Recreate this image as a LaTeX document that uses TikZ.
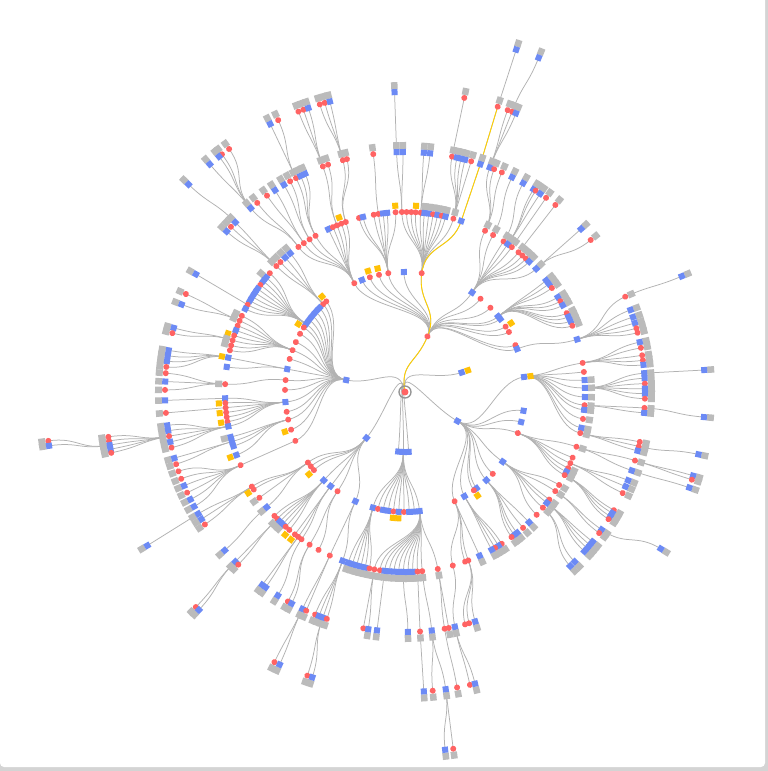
\documentclass[tikz,border=0pt]{standalone}
\definecolor{nred}{RGB}{255,99,99}
\definecolor{nblue}{RGB}{108,138,245}
\definecolor{ngray}{RGB}{187,187,187}
\definecolor{nyel}{RGB}{255,193,7}
\definecolor{ylin}{RGB}{255,208,0}
\definecolor{ecol}{RGB}{178,178,178}
\definecolor{shadowc}{RGB}{212,212,212}
\pgfdeclarelayer{bg}\pgfdeclarelayer{edges}\pgfdeclarelayer{yel}
\pgfsetlayers{bg,edges,yel,main}
\tikzset{
  rednode/.style={circle,fill=nred,inner sep=0pt,minimum size=6pt},
  bluenode/.style={rectangle,fill=nblue,inner sep=0pt,minimum size=6pt},
  gsq/.style={rectangle,fill=ngray,inner sep=0pt,minimum width=7pt,minimum height=6.5pt},
  ysq/.style={rectangle,fill=nyel,inner sep=0pt,minimum size=6pt},
  lnk/.style={draw=ecol,line width=0.75pt},
  ylnk/.style={draw=ylin,line width=0.9pt},
  cur/.style={rednode}
}
\pgfkeys{/mk/.cd,
 r/.code={\tikzset{cur/.style={rednode}}\def\mrk{n}},
 R/.code={\tikzset{cur/.style={rednode}}\def\mrk{g}},
 b/.code={\tikzset{cur/.style={bluenode}}\def\mrk{n}},
 B/.code={\tikzset{cur/.style={bluenode}}\def\mrk{g}},
 y/.code={\tikzset{cur/.style={rednode}}\def\mrk{y}},
 z/.code={\tikzset{cur/.style={bluenode}}\def\mrk{y}}}
\gdef\alledges{}
\gdef\yeledges{}
\newcommand\mknode[4]{%
  \edef\tmpk{\noexpand\pgfkeys{/mk/#4}}\tmpk
  \if g\mrk \node[gsq,rotate=#2] (#1-m) at (#2:{#3+6.5}) {};\fi
  \if y\mrk \node[ysq,rotate=#2] (#1-m) at (#2:{#3+6.5}) {};\fi
  \node[cur,rotate=#2] (#1) at (#2:#3) {};}
\newcommand\fanx[4]{%
  \edef\pa{\csname A#1\endcsname}%
  \pgfmathsetmacro\rc{60*#3}%
  \pgfmathsetmacro\rmid{60*(#3-0.5)}%
  \foreach \ang/\cc [count=\k] in {#4} {%
    \mknode{#2-\k}{\ang}{\rc}{\cc}%
    \expandafter\xdef\csname A#2-\k\endcsname{\ang}%
    \xdef\alledges{\unexpanded\expandafter{\alledges}\noexpand\draw[lnk] (#1.center) .. controls (\pa:\rmid) and (\ang:\rmid) .. (#2-\k.center);}%
  }}
\newcommand\yedge[3]{%
  \pgfmathsetmacro\rmid{60*(#3-0.5)}%
  \edef\pa{\csname A#1\endcsname}\edef\pb{\csname A#2\endcsname}%
  \xdef\yeledges{\unexpanded\expandafter{\yeledges}\noexpand\draw[ylnk] (#1.center) .. controls (\pa:\rmid) and (\pb:\rmid) .. (#2.center);}}
\expandafter\def\csname Aroot\endcsname{100}
\begin{document}
\begin{tikzpicture}[x=1pt,y=1pt]
\useasboundingbox (-405,-379) rectangle (363,392);
\begin{pgfonlayer}{bg}
\fill[shadowc] (-405,-379) rectangle (363,392);
\fill[white,rounded corners=4pt] (-405,-375) rectangle (360,400);
\end{pgfonlayer}
\node[circle,draw=gray!85,line width=1.3pt,minimum size=12pt,inner sep=0pt] (ring) at (0,0) {};
\node[circle,fill=nred,minimum size=7pt,inner sep=0pt] (root) at (0,0) {};
% depth 1
\fanx{root}{A}{1}{168.5/b,68/r,19/z,-29/b,230/b,263.5/b,268.5/b,273.5/b}
% depth 2
\fanx{A-2}{U}{2}{115/r,111/b,107/y,102.5/y,98/r,90.5/b,82/r,56/b,51/r,44.6/r,39/b,37.5/b,33/y,30/r,23/r,21/b}
\fanx{A-1}{L}{2}{131/y,133/r,135.5/b,138/b,140.5/b,143/b,145.5/b,147.5/y,151/r,155.4/r,159.6/r,164/r,169/b,174.3/r,179/r,184.8/b,189.5/r,193.3/r,198.3/y,204/r}
\fanx{A-4}{R}{2}{7.2/z,-9/b,-14.5/b,-20/r,-35.5/b,-43/r,-47.3/b,-53.4/b,-55/y,-60.3/b,-65.6/r}
\fanx{A-5}{M}{2}{216/r,218.3/r,220.6/y,227.4/b,231.7/b,235.8/r,245.6/b}
\fanx{A-7}{D}{2}{254.5/b,257/r,259.5/b,262/b,264.5/y,267/z,269.5/r,272/b,274.5/b,277/b}
% depth 3
\fanx{U-1}{Ua}{3}{126.3/r,124.2/r,122/r,119.8/r,115.2/b,113.6/r,112.2/r,110.7/y,109.2/r}
\fanx{U-5}{Ub}{3}{104.8/r,103.5/b,100/r,98.5/r,97/b,95.7/b,93/y}
\fanx{U-7}{Uc}{3}{91/r,89.5/r,88/r,86.6/y,85/r,83.8/B,82.4/B,81/R,79.6/B,78.2/R,77/B,74.4/R,71.8/b}
\fanx{U-8}{Ud}{3}{63.6/R,60.7/R,56.8/R,55.2/B,53.6/R,50.9/R,49.3/R,47.8/R,46.4/B,43.2/B}
\fanx{U-11}{Ue}{3}{38.3/B,36.9/B,35.3/R,31.8/B,30.3/R,28.8/B,26/R,24.7/B,23.2/B,21.6/R}
\fanx{U-16}{Uf}{3}{17/b}
\fanx{L-2}{Lh}{3}{129.6/B,131.7/B,133.8/R,135.6/R}
\fanx{L-7}{La}{3}{138.7/r,140.5/B,142/b,143.5/r,145/b,146.5/b,148/b,149.5/b,151/r,152.5/b}
\fanx{L-11}{Lb}{3}{155/R,156.7/R,158.4/r,160/b,161.7/y,163.3/R,165/R,166.6/r}
\fanx{L-13}{Lc}{3}{169/z,172/b}
\fanx{L-14}{Ld}{3}{177.5/R}
\fanx{L-16}{Le}{3}{182/b,183.5/y,185/r,186.5/y,188/r,189.5/y,191/b}
\fanx{L-18}{Lf}{3}{194.5/B,196/b,197.5/b,200.5/z}
\fanx{L-20}{Lg}{3}{204/r}
\fanx{M-1}{Ma}{3}{211.7/r,212.8/y,216/R,219.8/B}
\fanx{M-4}{Mb}{3}{223.5/r,224.8/R,226/B,227.2/B,228.5/r,230/y}
\fanx{M-5}{Mc}{3}{232.3/y,233.6/r,234.9/r}
\fanx{M-6}{Md}{3}{238/r,241.3/r}
\fanx{M-7}{Me}{3}{245.3/r,249.7/b}
\fanx{D-1}{Da}{3}{251.6/B,253/B,254.4/B,255.8/B,257.2/B,258.6/R}
\fanx{D-10}{Db}{3}{260.2/R,262/R,263.5/B,265/B,266.5/B,268/B,269.5/B,271/B,272.5/B,274/R,275.5/R,280.5/R}
\fanx{R-1}{Ra}{3}{9.3/r,6.4/r,3.8/B,1.3/B,-1.6/B,-4.2/R,-5.7/B,-8.6/R,-11.5/B,-13.2/R}
\fanx{R-4}{Rb}{3}{-17.7/R,-21.4/r,-23.3/r,-25/R,-26.3/B,-27.5/R}
\fanx{R-5}{Rc}{3}{-31.1/R,-33.4/R,-36.7/R,-38/B,-40/R,-43/r}
\fanx{R-7}{Rd}{3}{-46.4/B,-49/R,-51.5/B,-52.6/B,-53.7/R}
\fanx{R-10}{Re}{3}{-57.5/R,-58.7/B,-60/R,-61.2/B}
\fanx{R-11}{Rf}{3}{-65.5/B,-69.4/r,-70.5/r,-74.6/r}
% depth 4
\fanx{Ua-1}{Va}{4}{128/R,130/B}
\fanx{Ua-2}{Vb}{4}{122.8/B,125.1/R}
\fanx{Ua-3}{Vc}{4}{118.6/R,120.3/B}
\fanx{Ua-4}{Vd}{4}{117/R,115.8/B,114.6/B}
\fanx{Ua-7}{Ve}{4}{110/R,108.7/R}
\fanx{Ua-9}{Vf}{4}{105/R,104/R}
\fanx{Ub-4}{Vg}{4}{97.6/R}
\fanx{Uc-1}{Vh}{4}{92/B,90.5/B}
\fanx{Uc-5}{Vi}{4}{85.5/B,84/B}
\fanx{Uc-12}{Vj}{4}{78.7/R,77.5/B,76.5/B,75.5/B,74/R}
\fanx{Uc-13}{Vk}{4}{71.7/B}
\fanx{Ud-1}{Vl}{4}{69.3/B,68.2/R,66.2/R}
\fanx{Ud-2}{Vm}{4}{63.5/B}
\fanx{Ud-3}{Vn}{4}{60.5/B}
\fanx{Ud-4}{Vo}{4}{57.6/B,57/R,55.7/B}
\fanx{Ud-5}{Vp}{4}{54/R}
\fanx{Ud-6}{Vq}{4}{51.2/R}
\fanx{Ud-10}{Vr}{4}{42.8/B,39.3/R}
\fanx{Uf-1}{Vs}{4}{23.4/R,20/B,18.2/B,16.7/B,15.4/R,14.3/R}
\fanx{Ra-1}{Wa}{4}{12/B,10.6/R,8.8/R,7.6/R,6.5/B}
\fanx{Ra-4}{Wb}{4}{4.5/B,3.3/B,2/R,0.8/B,-0.4/B,-1.6/R}
\fanx{Ra-6}{Wc}{4}{-3.8/R,-5/B}
\fanx{Ra-10}{Wd}{4}{-12/R,-13.1/R,-14.2/B}
\fanx{Rb-1}{We}{4}{-16.6/R,-19.1/B}
\fanx{Rb-3}{Wf}{4}{-21.6/B,-23.2/B,-24.9/R}
\fanx{Rb-6}{Wg}{4}{-29.5/R,-30.3/B,-31.2/B,-32/R}
\fanx{Rc-2}{Wh}{4}{-35/B,-36/R}
\fanx{Rc-4}{Wi}{4}{-38.6/B,-39.6/B,-40.6/B,-41.6/B}
\fanx{Rc-5}{Wj}{4}{-45/B,-46.5/B}
\fanx{La-9}{Xa}{4}{150.6/B}
\fanx{Lb-2}{Xb}{4}{155.9/R,158.6/B}
\fanx{Lb-6}{Xc}{4}{164.5/B,165.8/R}
\fanx{Lh-4}{Xe}{4}{135/B,136.5/R,138/B}
\fanx{Lc-1}{Xf}{4}{170/B,171.3/B,172.6/B,174/R}
\fanx{Ld-1}{Xg}{4}{175.5/R,177.5/B,179.5/R}
\fanx{Le-1}{Xh}{4}{182/B}
\fanx{Le-3}{Xi}{4}{185/R}
\fanx{Le-7}{Xj}{4}{188/B,189.3/B,190.6/R,192/B,193.4/R}
\fanx{Lf-2}{Xk}{4}{196/B,197.5/R}
\fanx{Lg-1}{Xl}{4}{199.3/R,201.2/R,203/B,204.8/R,206.6/B,208.5/B}
\fanx{Ma-1}{Xm}{4}{210.5/B,212/B,213.5/R}
\fanx{Ma-4}{Xn}{4}{221.3/B}
\fanx{Mb-2}{Xo}{4}{225/B,226/R}
\fanx{Mc-2}{Xp}{4}{233.5/B,234.5/B}
\fanx{Mc-3}{Xq}{4}{238/B}
\fanx{Md-1}{Xr}{4}{240.8/R,241.8/B}
\fanx{Me-1}{Xs}{4}{244.7/B,245.7/R}
\fanx{Me-2}{Xt}{4}{248/R,249/B,250/B,251/R}
\fanx{Db-1}{Ya}{4}{260/r,261.2/B}
\fanx{Db-3}{Yb}{4}{263.3/B}
\fanx{Db-7}{Yc}{4}{270.7/B}
\fanx{Db-10}{Yd}{4}{273.6/R}
\fanx{Db-11}{Ye}{4}{276.4/B}
\fanx{Db-12}{Yf}{4}{279.5/r,280.5/R}
\fanx{Rf-4}{Yg}{4}{-78/B}
\fanx{Rf-2}{Yh}{4}{-75.5/r,-74.5/r,-73/B}
% depth 5
\fanx{Va-2}{Za}{5}{125.9/R,127.6/R,128.3/B,130.6/B}
\fanx{Xe-1}{Zb}{5}{136.2/B}
\fanx{Vd-1}{Zc}{5}{116.7/B,115/R}
\fanx{Ve-1}{Zd}{5}{110.8/R,109.8/R,108.8/B}
\fanx{Vf-1}{Ze}{5}{106.5/R,105.5/R,104.5/B}
\fanx{Vh-1}{Zf}{5}{92/B}
\fanx{Vj-1}{Zg}{5}{78.6/R}
\fanx{Vk-1}{Zh}{5}{72/R}
\fanx{Vl-1}{Zi}{5}{70/R,69.1/R,68.3/B}
\fanx{Vs-1}{Zj}{5}{22.7/B}
\fanx{Wb-1}{Zk}{5}{4.2/B}
\fanx{Wc-1}{Zl}{5}{-4.8/B}
\fanx{Wd-2}{Zm}{5}{-12/B}
\fanx{We-1}{Zn}{5}{-16.2/B,-17/R}
\fanx{We-2}{Zo}{5}{-18.6/B}
\fanx{Wh-1}{Zp}{5}{-31.5/B}
\fanx{Xj-3}{Zq}{5}{188.6/R,189.4/R,190.2/B,191/B,191.7/R}
\fanx{Xm-1}{Zr}{5}{210.8/B}
\fanx{Xo-1}{Zs}{5}{225.8/R,226.6/B}
\fanx{Xs-1}{Zt}{5}{244.2/R,245.3/B}
\fanx{Xt-3}{Zu}{5}{251/R,252/B}
\fanx{Yd-1}{Zv}{5}{273.6/B}
\fanx{Ye-1}{Zw}{5}{275.3/R,277.8/B}
\fanx{Yf-1}{Zx}{5}{280/R}
\fanx{Yg-1}{Zy}{5}{282.5/r,283.5/B}
% depth 6
\fanx{Zh-1}{Qa}{6}{72/B}
\fanx{Zi-2}{Qb}{6}{68.2/B}
\fanx{Zq-3}{Qc}{6}{187.8/R,188.6/B}
\fanx{Zw-2}{Qd}{6}{276.4/B,277.7/R}
% highlighted path
\yedge{root}{A-2}{1}
\yedge{A-2}{U-7}{2}
\yedge{U-7}{Uc-13}{3}
\yedge{Uc-13}{Vk-1}{4}
\yedge{Vk-1}{Zh-1}{5}
\begin{pgfonlayer}{edges}
\alledges
\end{pgfonlayer}
\begin{pgfonlayer}{yel}
\yeledges
\end{pgfonlayer}
\end{tikzpicture}
\end{document}
